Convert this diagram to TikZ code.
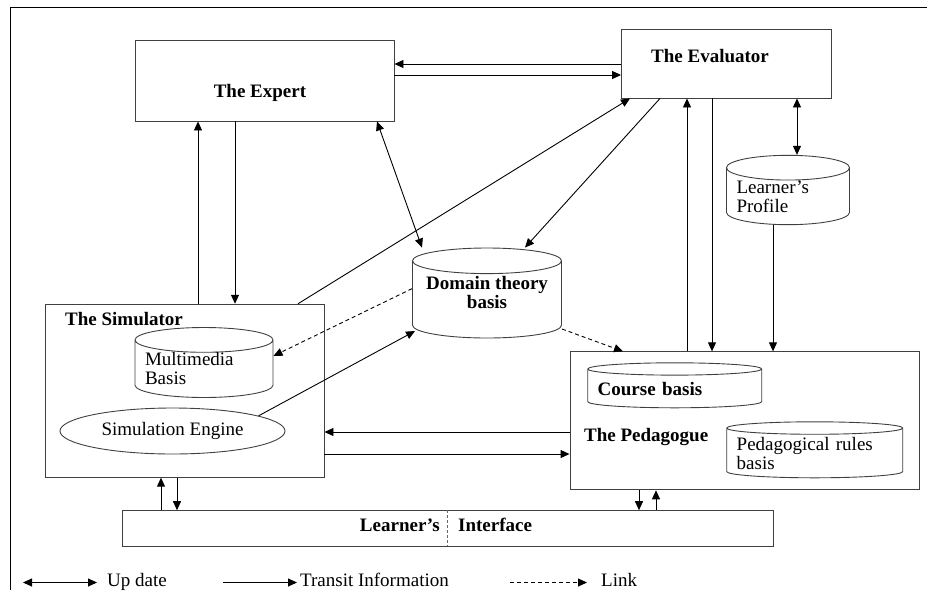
\documentclass[tikz,border=0pt]{standalone}
\usepackage{fontspec}
\setmainfont{Liberation Serif}
\usetikzlibrary{shapes.geometric, positioning, arrows.meta}

\tikzset{
  box/.style={draw=black!75, line width=0.9pt, rectangle, inner sep=0pt},
  db/.style={draw=black!75, line width=0.9pt, cylinder, shape border rotate=90, inner sep=0pt, align=left, anchor=shape center},
  ttl/.style={font=\bfseries\fontsize{19}{19}\selectfont, inner sep=0pt},
  txt/.style={font=\fontsize{19}{19}\selectfont, inner sep=0pt},
  flow/.style={->, line width=0.9pt},
  upd/.style={<->, line width=0.9pt},
  lnk/.style={->, line width=0.9pt, dash pattern=on 4pt off 3pt},
}

\begin{document}
\begin{tikzpicture}[x=1pt, y=-1pt, >={Triangle[length=9pt, width=8pt]}]

  \useasboundingbox (0,0) rectangle (927,590);
  \draw[line width=0.9pt] (10,590) -- (10,7) -- (927,7);

  % the modules
  \node[box, minimum width=259pt, minimum height=81pt] (expert) at (264.5,80.5) {};
  \node[ttl, anchor=base] (expert-t) at (260,97) {The Expert};

  \node[box, minimum width=210pt, minimum height=69pt] (evaluator) at (726.5,63.5) {};
  \node[ttl, anchor=base] (evaluator-t) at (710,62) {The Evaluator};

  \node[box, minimum width=279pt, minimum height=173pt] (simulator) at (184.5,390.7) {};
  \node[ttl, anchor=base west] (simulator-t) at (65,325) {The Simulator};

  \node[box, minimum width=349pt, minimum height=138pt] (pedagogue) at (744.5,420.8) {};
  \node[ttl, anchor=base west] (pedagogue-t) at (584,441.7) {The Pedagogue};

  \node[box, minimum width=650.6pt, minimum height=35.3pt] (interface) at (448,528.3) {};
  \node[ttl, anchor=base east] (interface-l) at (440,531.7) {Learner's};
  \node[ttl, anchor=base west] (interface-r) at (458,531.7) {Interface};
  \draw[draw=black!60, line width=0.9pt, dash pattern=on 3pt off 2pt]
    (interface.north -| 447.5,0) -- (interface.south -| 447.5,0);

  % the bases
  \node[db, txt, minimum width=138pt, minimum height=69pt, aspect=0.21, text width=118pt] (mmb) at (204,362.5) {Multimedia\\Basis};
  \node[draw=black!75, line width=0.9pt, ellipse, txt, minimum width=225pt, minimum height=46pt] (engine) at (172.5,431) {Simulation Engine};
  \node[db, ttl, minimum width=149pt, minimum height=90pt, aspect=0.21] (domain) at (487,293)
    {\raisebox{4pt}[\height][\depth]{\begin{tabular}{@{}c@{}}Domain theory\\basis\end{tabular}}};
  \node[db, txt, minimum width=123pt, minimum height=68pt, aspect=0.24, text width=103pt] (profile) at (788,190) {Learner's\\Profile};
  \node[db, ttl, minimum width=174pt, minimum height=45pt, aspect=0.08, text width=154pt] (course) at (674.7,385.3) {Course basis};
  \node[db, txt, minimum width=176pt, minimum height=56pt, aspect=0.08, text width=156pt] (rules) at (814.7,449.8) {Pedagogical rules\\basis};

  % transit information
  \draw[flow] (evaluator.west |- 0,64) -- (expert.east |- 0,64);
  \draw[flow] (expert.east |- 0,75) -- (evaluator.west |- 0,75);
  \draw[flow] (simulator.north -| 198,0) -- (expert.south -| 198,0);
  \draw[flow] (expert.south -| 235,0) -- (simulator.north -| 235,0);
  \draw[flow] (simulator.north -| 298,0) -- (evaluator.south -| 630,0);
  \draw[flow] (evaluator.south -| 660,0) -- (domain.north -| 525,0);
  \draw[flow] (engine.10) -- ([xshift=3pt]domain.west |- 0,331);
  \draw[flow] (pedagogue.north -| 687,0) -- (evaluator.south -| 687,0);
  \draw[flow] (evaluator.south -| 712,0) -- (pedagogue.north -| 712,0);
  \draw[flow] (profile.south -| 773,0) -- (pedagogue.north -| 773,0);
  \draw[flow] (pedagogue.west |- 0,432) -- (simulator.east |- 0,432);
  \draw[flow] (simulator.east |- 0,454) -- (pedagogue.west |- 0,454);
  \draw[flow] (interface.north -| 161,0) -- (simulator.south -| 161,0);
  \draw[flow] (simulator.south -| 177,0) -- (interface.north -| 177,0);
  \draw[flow] (pedagogue.south -| 639,0) -- (interface.north -| 639,0);
  \draw[flow] (interface.north -| 656,0) -- (pedagogue.south -| 656,0);

  % updates
  \draw[upd] (expert.south -| 377,0) -- (domain.north -| 422,0);
  \draw[upd] (evaluator.south -| 797,0) -- (profile.north -| 797,0);

  % links
  \draw[lnk] ([yshift=11pt]domain.west) -- ([yshift=13pt]mmb.east);
  \draw[lnk] (domain.east |- 0,329) -- (pedagogue.north -| 623,0);

  % legend
  \coordinate (lg-up-a) at (23,582.5);
  \coordinate (lg-up-b) at (97,582.5);
  \draw[upd] (lg-up-a) -- (lg-up-b);
  \node[txt, anchor=base west] (lg-up) at (107,586) {Up date};
  \coordinate (lg-tr-a) at (223,582.5);
  \coordinate (lg-tr-b) at (297,582.5);
  \draw[flow] (lg-tr-a) -- (lg-tr-b);
  \node[txt, anchor=base west] (lg-tr) at (300,586) {Transit Information};
  \coordinate (lg-ln-a) at (510,582.5);
  \coordinate (lg-ln-b) at (587,582.5);
  \draw[lnk] (lg-ln-a) -- (lg-ln-b);
  \node[txt, anchor=base west] (lg-ln) at (601,586) {Link};

\end{tikzpicture}
\end{document}
